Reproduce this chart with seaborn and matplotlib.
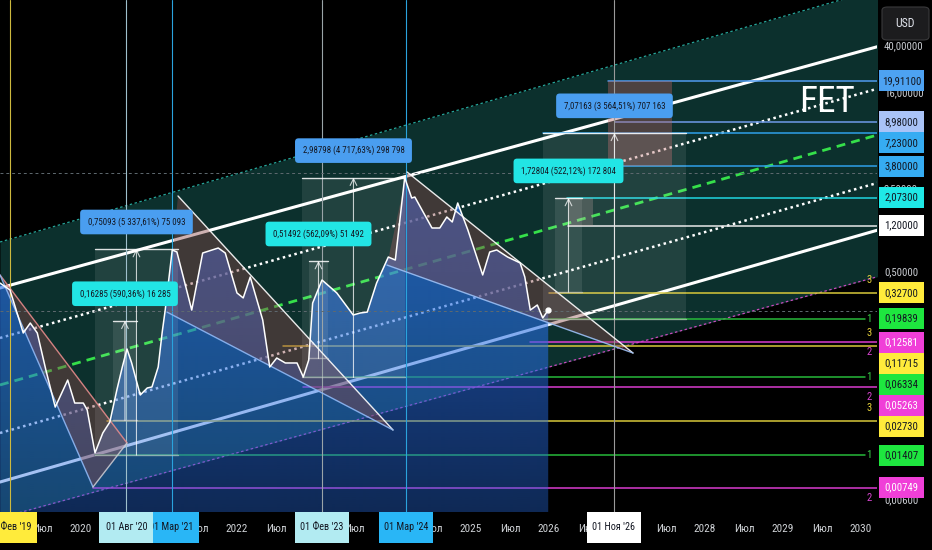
import numpy as np
import pandas as pd
import matplotlib
matplotlib.use('Agg')
import matplotlib.pyplot as plt
import matplotlib.transforms as mtransforms
from matplotlib import font_manager as fm
from matplotlib.patches import Polygon, Rectangle, FancyBboxPatch
from matplotlib.textpath import TextPath
from matplotlib.ticker import NullLocator
import seaborn as sns

# FET/USD, weekly-ish closes (decimal year, price)
price_dates = [2018.962, 2019.09, 2019.26, 2019.35, 2019.44, 2019.55, 2019.67, 2019.83, 2019.92,
               2020.03, 2020.08, 2020.18, 2020.21, 2020.28, 2020.37, 2020.46, 2020.53, 2020.59,
               2020.65, 2020.76, 2020.85, 2020.91, 2020.99, 2021.04, 2021.08, 2021.17, 2021.23,
               2021.42, 2021.56, 2021.76, 2021.85, 2022.00, 2022.08, 2022.17, 2022.33, 2022.42,
               2022.51, 2022.62, 2022.77, 2022.85, 2022.92, 2022.97, 2023.09, 2023.28, 2023.49,
               2023.58, 2023.67, 2023.79, 2023.94, 2024.03, 2024.15, 2024.24, 2024.28, 2024.50,
               2024.60, 2024.69, 2024.76, 2024.83, 2024.96, 2025.15, 2025.24, 2025.33, 2025.47,
               2025.63, 2025.69, 2025.76, 2025.85, 2025.92, 2025.99]
price_values = [0.395, 0.345, 0.150, 0.182, 0.150, 0.0733, 0.0357, 0.0603, 0.0386,
                0.0386, 0.0337, 0.0147, 0.0165, 0.0216, 0.0267, 0.0497, 0.0776, 0.110,
                0.0839, 0.0451, 0.0517, 0.0527, 0.0776, 0.150, 0.234, 0.750, 0.721,
                0.234, 0.707, 0.779, 0.707, 0.326, 0.296, 0.444, 0.193, 0.0776,
                0.0924, 0.0839, 0.0839, 0.0639, 0.0889, 0.268, 0.419, 0.326, 0.2126,
                0.221, 0.225, 0.395, 0.654, 0.617, 3.05, 2.053, 2.093, 1.148,
                1.148, 1.421, 1.290, 1.864, 1.104, 0.462, 0.721, 0.750, 0.654,
                0.583, 0.444, 0.234, 0.258, 0.2007, 0.234]

# log channel: price at the left and right edge of the chart
chan_dates = [2018.962, 2030.244]
chan_top = [0.875, 118.9]
chan_upper = [0.359, 39.1]
chan_dot_up = [0.1362, 17.32]
chan_mid = [0.0548, 7.07]
chan_dot_lo = [0.0216, 2.79]
chan_lower = [0.00835, 1.117]
chan_bottom = [0.00416, 0.453]

# horizontal levels
level_prices = [19.911, 8.98, 7.23, 3.80, 2.073, 1.20, 0.327, 0.19839, 0.12581, 0.11715,
                0.06334, 0.05263, 0.0273, 0.01407, 0.00749]
level_texts = ['19,91100', '8,98000', '7,23000', '3,80000', '2,07300', '1,20000', '0,32700',
               '0,19839', '0,12581', '0,11715', '0,06334', '0,05263', '0,02730', '0,01407', '0,00749']
level_from = [2026.756, 2026.846, 2025.923, 2026.949, 2026.231, 2026.244, 2026.0, 2025.923,
              2025.756, 2022.59, 2022.846, 2022.846, 2020.333, 2020.179, 2020.154]
level_group = ['b1', 'b2', 'b3', 'b3', 'c', 'w', 'y', 'g', 'm', 'y', 'g', 'm', 'y', 'g', 'm']

# price range measurements
meas_start = [2020.41, 2020.179, 2022.923, 2022.833, 2026.077, 2025.923]
meas_end = [2020.718, 2021.244, 2023.167, 2024.154, 2026.423, 2027.756]
meas_low = [0.02758, 0.01407, 0.09161, 0.06334, 0.33096, 0.19839]
meas_high = [0.19043, 0.765, 0.6065, 3.0513, 2.059, 7.27]
meas_text = ['0,16285 (590,36%) 16 285', '0,75093 (5 337,61%) 75 093', '0,51492 (562,09%) 51 492',
             '2,98798 (4 717,63%) 298 798', '1,72804 (522,12%) 172 804', '7,07163 (3 564,51%) 707 163']
meas_color = ['#22e5e5', '#4a9ef0', '#22e5e5', '#4a9ef0', '#22e5e5', '#4a9ef0']

# falling wedges drawn as triangles
tri_dates = [[2018.962, 2020.59, 2020.154], [2021.244, 2024.0, 2021.103], [2024.18, 2027.077, 2023.923]]
tri_prices = [[0.462, 0.0178, 0.00758], [2.135, 0.0229, 0.225], [3.40, 0.1018, 0.560]]

# marked dates
event_dates = [2019.085, 2020.583, 2021.162, 2023.085, 2024.164, 2026.833]
event_texts = ["01 Фев '19", "01 Авг '20", "01 Мар '21", "01 Фев '23", "01 Мар '24", "01 Ноя '26"]
event_line = ['#cdb93e', '#9fc0cc', '#2aa3dd', '#9aa4a8', '#2aa3dd', '#9a9a9a']
event_box = ['#ffeb3b', '#b2ebf2', '#29b6f6', '#b2ebf2', '#29b6f6', '#ffffff']

ref_prices = [3.33, 0.2298]

# time scale labels that are not hidden under the date badges
x_ticks = [2019.5, 2020, 2021.5, 2022, 2022.5, 2023.5, 2024.5, 2025, 2025.5, 2026, 2026.5,
           2027.5, 2028, 2028.5, 2029, 2029.5, 2030]
x_labels = [str(int(t)) if t == int(t) else 'Июл' for t in x_ticks]
y_ticks = [40, 16, 6, 2.5, 0.5, 0.006]
y_labels = ['40,00000', '16,00000', '6,00000', '2,50000', '0,50000', '0,00600']

styles = {
    'b1': ('#4f9cf0', '#4da2f2', '#131722'),
    'b2': ('#6f9be8', '#a9c3f7', '#131722'),
    'b3': ('#2f9fe8', '#36acf2', '#131722'),
    'c': ('#1fd6e0', '#1fe8e6', '#131722'),
    'w': ('#e8e8e8', '#ffffff', '#131722'),
    'y': ('#d8c83a', '#ffeb3b', '#131722'),
    'g': ('#27b83a', '#1ee63f', '#131722'),
    'm': ('#d93ccf', '#f03fd8', '#ffffff'),
}
numbers = {'y': ('3', '#e6d23a', 9.4), 'g': ('1', '#3ad24a', 0), 'm': ('2', '#d845d0', -7.2)}


def pick_font():
    names = {f.name for f in fm.fontManager.ttflist}
    for fam in ['Noto Sans ExtraCondensed', 'Noto Sans Condensed', 'Roboto Condensed',
                'Liberation Sans Narrow', 'Open Sans Condensed', 'DejaVu Sans Condensed']:
        if fam in names:
            return fam
    other = sorted(n for n in names if 'Condensed' in n or 'Narrow' in n)
    return other[0] if other else 'DejaVu Sans'


sns.set_theme(style='dark', rc={'axes.facecolor': 'black', 'figure.facecolor': 'black'})
narrow = pick_font()
plt.rcParams['font.family'] = [narrow, 'DejaVu Sans']
fp = fm.FontProperties(family=[narrow, 'DejaVu Sans'])


def fit_size(sample, width_px, cap):
    w = TextPath((0, 0), sample, size=10, prop=fp).get_extents().width
    return min(cap, 10 * width_px * 0.72 / w)


fs_axis = fit_size('19,91100', 38, 9.5)
fs_date = fit_size("01 Авг '20", 40, 9.5)
fs_tick = fit_size('2020', 21, 9.5)
fs_meas = fit_size('0,75093 (5 337,61%) 75 093', 96, 9.0)
fs_fet = fit_size('FET', 52, 40)

W, H = 932, 550
fig = plt.figure(figsize=(W / 100, H / 100), dpi=100)
ax = fig.add_axes([0, 38 / H, 877 / W, 512 / H])
ax.set_yscale('log')
ax.set_xlim(2018.962, 2030.205)
ax.set_ylim(0.004671, 95.3)
ax.set_autoscale_on(False)
ax.grid(False)
for s in ax.spines.values():
    s.set_visible(False)

# channel background and lines
ax.fill_between(chan_dates, chan_bottom, chan_top, color='#0c302d', lw=0, zorder=0.5)
ax.plot(chan_dates, chan_top, color='#26a69a', lw=0.9, dashes=(2, 2), zorder=2)
ax.plot(chan_dates, chan_bottom, color='#c94bbd', lw=0.9, dashes=(2, 2), zorder=2)
ax.plot(chan_dates, chan_upper, color='white', lw=2.2, zorder=2)
ax.plot(chan_dates, chan_lower, color='white', lw=2.2, zorder=2)
ax.plot(chan_dates, chan_dot_up, color='white', lw=1.8, dashes=(1, 1.4), zorder=2)
ax.plot(chan_dates, chan_dot_lo, color='white', lw=1.8, dashes=(1, 1.4), zorder=2)
ax.plot(chan_dates, chan_mid, color='#35e04a', lw=2.0, dashes=(3.2, 2.2), zorder=2)

# levels
for p, t0, g in zip(level_prices, level_from, level_group):
    t1 = 2030.05 if g == 'g' else 2030.3
    ax.plot([t0, t1], [p, p], color=styles[g][0], lw=1.1, zorder=2)

# price area with vertical gradient
verts = list(zip(price_dates, price_values)) + [(price_dates[-1], 1e-4), (price_dates[0], 1e-4)]
clip = Polygon(verts, closed=True, fc='none', ec='none', transform=ax.transData)
ax.add_patch(clip)
grad = np.ones((256, 1, 4))
grad[:, :, 0], grad[:, :, 1], grad[:, :, 2] = 40 / 255, 110 / 255, 228 / 255
grad[:, 0, 3] = np.linspace(0.95, 0.38, 256)
img = ax.imshow(grad, extent=[0, 1, 0, 1], transform=ax.transAxes, aspect='auto',
                interpolation='bilinear', zorder=3)
img.set_clip_path(clip)

# triangles
tri_edges = [[('#e58a8a', 0, 1), ('#8fb8f5', 0, 2), ('#c8c8d0', 2, 1)],
             [('white', 0, 1), ('#8fb8f5', 2, 1)],
             [('white', 0, 1), ('#9cc0f5', 2, 1)]]
for td, tp, edges in zip(tri_dates, tri_prices, tri_edges):
    ax.add_patch(Polygon(list(zip(td, tp)), closed=True, fc='#8a4646', alpha=0.42, lw=0, zorder=4))
    for c, i, j in edges:
        ax.plot([td[i], td[j]], [tp[i], tp[j]], color=c, lw=1.0, alpha=0.9, zorder=4.5)

# target zone boxes
ax.add_patch(Rectangle((2026.756, 3.80), 2027.577 - 2026.756, 19.911 - 3.80,
                       fc='#b86262', alpha=0.38, lw=0, zorder=3.9))
ax.add_patch(Rectangle((2026.244, 1.20), 0.32, 2.073 - 1.20, fc='#c8a0a0', alpha=0.25, lw=0, zorder=4))

# measurements
for t0, t1, lo, hi, txt, col in zip(meas_start, meas_end, meas_low, meas_high, meas_text, meas_color):
    ax.add_patch(Rectangle((t0, lo), t1 - t0, hi - lo, fc='white', alpha=0.09, lw=0, zorder=4))
    ax.plot([t0, t1], [hi, hi], color='white', lw=1.0, alpha=0.85, zorder=4.5)
    ax.plot([t0, t1], [lo, lo], color='#d0d0d0', lw=1.0, alpha=0.6, zorder=4.5)
    tc = (t0 + t1) / 2
    ax.annotate('', xy=(tc, hi), xytext=(tc, lo),
                arrowprops=dict(arrowstyle='->', color='white', lw=0.8, alpha=0.75,
                                shrinkA=0, shrinkB=0), zorder=4.6)
    ax.annotate(txt, xy=(tc, hi), xytext=(0, 19.4), textcoords='offset points',
                ha='center', va='center', fontsize=fs_meas, color='#131722', zorder=7,
                bbox=dict(boxstyle='round,pad=0.85,rounding_size=0.4', fc=col, ec='none'))

# vertical date markers and reference lines
for t, c in zip(event_dates, event_line):
    ax.axvline(t, color=c, lw=0.8, zorder=4)
for p in ref_prices:
    ax.axhline(p, color='#5f6a70', lw=0.7, dashes=(3, 3), zorder=4)

# price line
price = pd.DataFrame({'date': price_dates, 'close': price_values})
sns.lineplot(data=price, x='date', y='close', color='white', lw=1.1, ax=ax, zorder=6)
ax.plot([price_dates[-1]], [price_values[-1]], 'o', ms=3.5, color='white', zorder=7)

ax.text(0.943, 0.80, 'FET', transform=ax.transAxes, fontsize=fs_fet, color='white',
        ha='center', va='center', zorder=8)

# axes
ax.set_xlim(2018.962, 2030.205)
ax.set_ylim(0.004671, 95.3)
ax.set_xlabel('')
ax.set_ylabel('')
ax.set_xticks(x_ticks, x_labels)
ax.yaxis.tick_right()
ax.set_yticks(y_ticks, y_labels)
ax.yaxis.set_minor_locator(NullLocator())
ax.tick_params(axis='x', length=0, pad=9, labelsize=fs_tick, labelcolor='#cfd2d6')
ax.tick_params(axis='y', length=0, pad=5, labelsize=fs_axis, labelcolor='#c9ccd1')

# level labels on the price scale, pushed down so they don't overlap
blend = mtransforms.blended_transform_factory(ax.transAxes, ax.transData)
prev = None
for p, txt, g in zip(level_prices, level_texts, level_group):
    y = H - ax.transData.transform((2025, p))[1]
    if prev is not None and y < prev + 21:
        y = prev + 21
    prev = y
    _, box, tc = styles[g]
    fig.add_artist(Rectangle((879 / W, (H - y - 10.5) / H), 45 / W, 21 / H,
                             transform=fig.transFigure, fc=box, ec='none', zorder=5))
    fig.text(901.5 / W, (H - y) / H, txt, ha='center', va='center', fontsize=fs_axis,
             color=tc, zorder=6)
    if g in numbers:
        n, nc, off = numbers[g]
        ax.annotate(n, xy=(869 / 877, p), xycoords=blend, xytext=(0, off),
                    textcoords='offset points', ha='center', va='center',
                    fontsize=fs_axis, color=nc, zorder=8, annotation_clip=False)

# date labels on the time scale
for k, i in enumerate([5, 4, 3, 2, 1, 0]):
    xp = ax.transData.transform((event_dates[i], 1))[0]
    fig.add_artist(Rectangle(((xp - 27) / W, 7 / H), 54 / W, 31 / H, transform=fig.transFigure,
                             fc=event_box[i], ec='none', zorder=5 + 2 * k))
    fig.text(xp / W, 22.5 / H, event_texts[i], ha='center', va='center', fontsize=fs_date,
             color='#131722', zorder=6 + 2 * k)

# currency badge
fig.add_artist(FancyBboxPatch((882 / W, 510 / H), 47 / W, 33 / H, boxstyle='round,pad=0,rounding_size=0.006',
                              transform=fig.transFigure, fc='#1c1c1e', ec='#3a3a3c', lw=0.8, zorder=5))
fig.text(905.5 / W, 526.5 / H, 'USD', ha='center', va='center', fontsize=fs_axis * 1.1,
         color='#e0e3eb', zorder=6)

fig.savefig('out.png', dpi=100, facecolor='black')
